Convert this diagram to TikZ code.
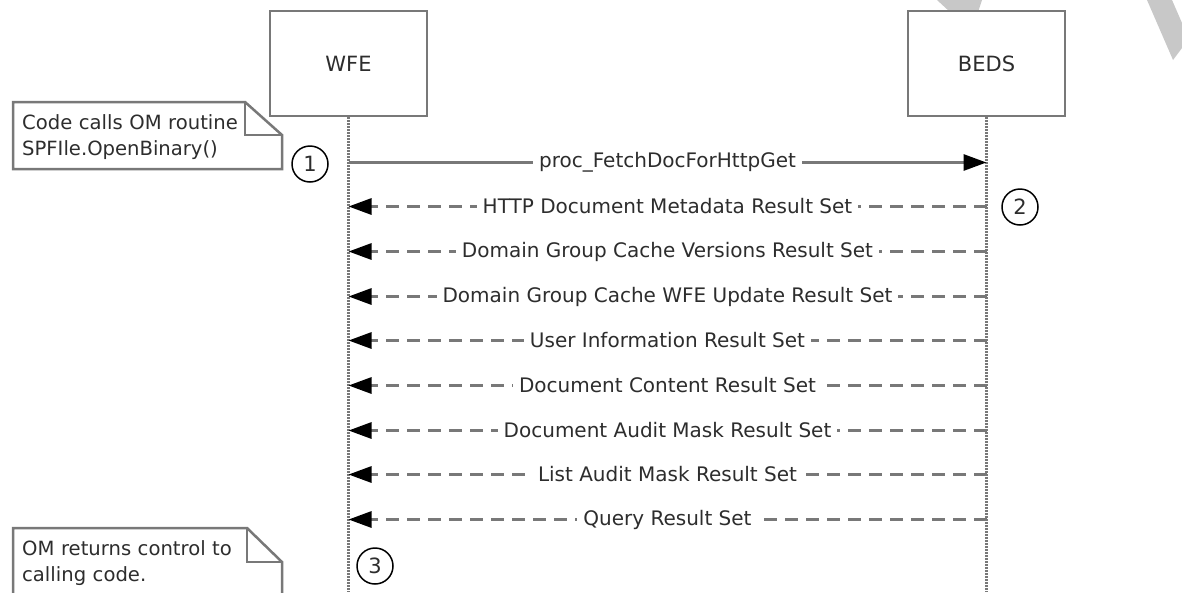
\documentclass[tikz,border=0pt]{standalone}
\usepackage{fontspec}
\setmainfont{DejaVu Sans}
\usetikzlibrary{arrows.meta}
\definecolor{edge}{RGB}{120,120,120}
\definecolor{wm}{RGB}{200,200,200}
\definecolor{txt}{RGB}{45,45,45}
\begin{document}
\begin{tikzpicture}[x=1pt,y=-1pt,
  actor/.style={draw=edge,line width=2.5pt,fill=white,minimum width=157pt,minimum height=105pt,inner sep=0pt,text=txt,font=\fontsize{21}{24}\selectfont},
  lifeline/.style={draw=edge,line width=3pt,dash pattern=on 1.5pt off 1.5pt},
  msg/.style={draw=edge,line width=3pt,-{Triangle[length=23pt,width=16pt,color=black,fill=black]}},
  ret/.style={msg,dash pattern=on 13pt off 8pt},
  lbl/.style={fill=white,inner xsep=6pt,inner ysep=1pt,text=txt,font=\fontsize{20}{24}\selectfont},
  num/.style={draw=black,circle,line width=1.5pt,minimum size=36pt,inner sep=0pt,text=txt,font=\fontsize{21}{24}\selectfont},
  notetext/.style={anchor=north west,text width=252pt,align=left,inner sep=0pt,text=txt,font=\fontsize{19.6}{26.5}\selectfont},
  noteline/.style={draw=edge,line width=2.5pt,fill=white,line join=miter}
]
\useasboundingbox (0,0) rectangle (1182,592);
\fill[white] (0,0) rectangle (1182,592);
% watermark fragments
\fill[wm] (937,0) -- (982,0) -- (978,12) -- (950,12) -- cycle;
\fill[wm] (1147,0) -- (1172,0) -- (1182,23) -- (1182,48) -- (1173,60) -- cycle;

% actors
\node[actor] (wfe) at (348.5,63.5) {WFE};
\node[actor] (beds) at (986.5,63.5) {BEDS};
\coordinate (wend) at (348.5,592);
\coordinate (bend) at (986.5,592);
\draw[lifeline] (wfe.south) -- (wend);
\draw[lifeline] (beds.south) -- (bend);

\foreach \i/\y in {1/162.5,2/206.5,3/251.5,4/296.5,5/340.5,6/385.5,7/430.5,8/474.5,9/519.5}{
  \coordinate (w\i) at (348.5,\y);
  \coordinate (b\i) at (986.5,\y);
}

\draw[msg] (w1) -- node[lbl] {proc\_FetchDocForHttpGet} (b1);
\draw[ret] (b2) -- node[lbl] {HTTP Document Metadata Result Set} (w2);
\draw[ret] (b3) -- node[lbl] {Domain Group Cache Versions Result Set} (w3);
\draw[ret] (b4) -- node[lbl] {Domain Group Cache WFE Update Result Set} (w4);
\draw[ret] (b5) -- node[lbl] {User Information Result Set} (w5);
\draw[ret] (b6) -- node[lbl] {Document Content Result Set} (w6);
\draw[ret] (b7) -- node[lbl] {Document Audit Mask Result Set} (w7);
\draw[ret] (b8) -- node[lbl] {List Audit Mask Result Set} (w8);
\draw[ret] (b9) -- node[lbl] {Query Result Set} (w9);

% step markers
\node[num] (c1) at (310,164) {1};
\node[num] (c2) at (1020,207) {2};
\node[num] (c3) at (375,566) {3};

% note 1
\draw[noteline] (13,102) -- (245,102) -- (282,135) -- (282,169) -- (13,169) -- cycle;
\draw[noteline,fill=none] (245,102) -- (245,135) -- (282,135);
\node[notetext] (n1) at (22,114) {Code calls OM routine\\SPFIle.OpenBinary()};

% note 2
\draw[noteline] (13,528) -- (247,528) -- (282,562) -- (282,620) -- (13,620) -- cycle;
\draw[noteline,fill=none] (247,528) -- (247,562) -- (282,562);
\node[notetext] (n2) at (22,540) {OM returns control to\\calling code.};
\end{tikzpicture}
\end{document}
